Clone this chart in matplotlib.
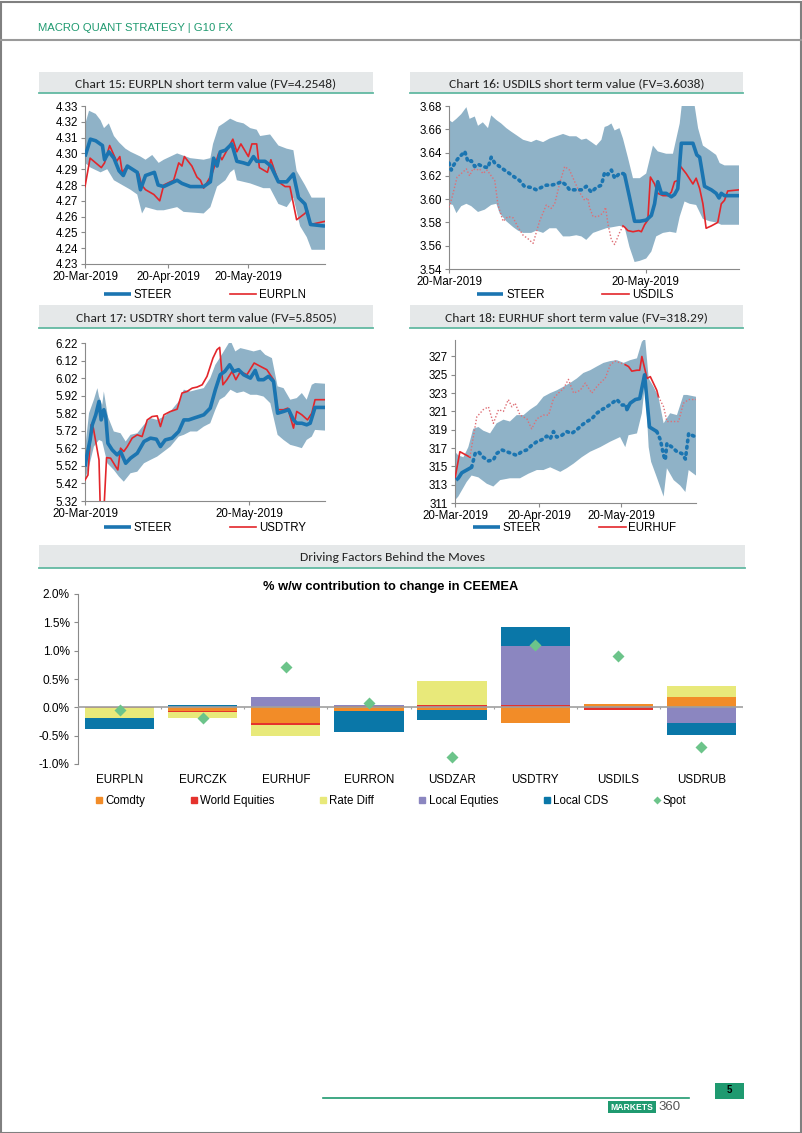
import numpy as np
import pandas as pd
import matplotlib
matplotlib.use('Agg')
import matplotlib.pyplot as plt
import matplotlib.dates as mdates
from matplotlib import font_manager as fm
from matplotlib.lines import Line2D
from matplotlib.patches import Rectangle

#%% Data

START = pd.Timestamp('2019-03-20')
START_NUM = mdates.date2num(START)

# (days since 20-Mar-2019, value)
eurpln_steer = [(0, 4.298), (2, 4.309), (4, 4.308), (6.5, 4.305), (7.3, 4.296), (8.9, 4.301),
                (10.8, 4.297), (12.7, 4.289), (14.3, 4.286), (15.8, 4.292), (19.5, 4.288),
                (20.7, 4.277), (22.6, 4.286), (25.9, 4.288), (27.3, 4.280), (29.4, 4.279),
                (34.4, 4.283), (36.2, 4.281), (39.3, 4.279), (44.3, 4.279), (46.8, 4.282),
                (48.0, 4.297), (49.3, 4.292), (50.5, 4.301), (52.4, 4.302), (54.8, 4.306),
                (56.7, 4.295), (59.2, 4.294), (61.0, 4.293), (62.9, 4.298), (64.1, 4.295),
                (67.2, 4.295), (69.4, 4.292), (72.2, 4.282), (75.3, 4.282), (77.8, 4.287),
                (79.7, 4.272), (82.1, 4.268), (84.2, 4.255), (89.6, 4.254)]
eurpln_spot = [(0, 4.279), (1.9, 4.297), (6.1, 4.291), (7.3, 4.294), (9.2, 4.305), (11.8, 4.295),
               (13.0, 4.298), (13.9, 4.288), (15.8, 4.292), (20.1, 4.287), (21.1, 4.280),
               (22.6, 4.277), (25.7, 4.274), (27.9, 4.270), (29.4, 4.280), (33.1, 4.283),
               (35.0, 4.294), (36.2, 4.292), (37.1, 4.298), (39.9, 4.292), (41.8, 4.285),
               (43.1, 4.283), (44.3, 4.278), (47.4, 4.287), (48.6, 4.293), (49.9, 4.300),
               (51.1, 4.296), (53.0, 4.302), (55.2, 4.309), (56.7, 4.301), (58.2, 4.306),
               (61.0, 4.298), (62.3, 4.306), (64.1, 4.306), (65.1, 4.291), (68.1, 4.288),
               (69.4, 4.296), (72.2, 4.282), (74.7, 4.279), (76.5, 4.279), (79.0, 4.258),
               (82.1, 4.262), (83.0, 4.264), (84.2, 4.255), (89.6, 4.257)]
eurpln_hi = [(0, 4.318), (1.5, 4.327), (4.0, 4.325), (5.8, 4.321), (7.1, 4.316), (8.9, 4.319),
             (10.8, 4.311), (12.7, 4.307), (15.1, 4.303), (17.0, 4.301), (20.7, 4.298),
             (22.6, 4.296), (25.1, 4.299), (27.5, 4.294), (29.4, 4.296), (34.4, 4.300),
             (39.3, 4.297), (44.3, 4.296), (46.8, 4.297), (47.8, 4.306), (49.9, 4.317),
             (51.7, 4.319), (54.2, 4.322), (56.7, 4.320), (59.2, 4.319), (61.7, 4.316),
             (64.1, 4.315), (65.4, 4.311), (69.1, 4.312), (72.2, 4.305), (75.3, 4.303),
             (77.8, 4.302), (79.0, 4.289), (82.1, 4.280), (84.6, 4.272), (89.6, 4.272)]
eurpln_lo = [(0, 4.294), (2.1, 4.291), (5.8, 4.288), (8.3, 4.290), (10.8, 4.283), (13.9, 4.280),
             (17.0, 4.277), (19.5, 4.274), (21.3, 4.262), (22.6, 4.266), (26.9, 4.264),
             (29.4, 4.264), (34.4, 4.266), (36.8, 4.263), (44.3, 4.262), (46.8, 4.266),
             (49.3, 4.279), (52.4, 4.283), (54.2, 4.288), (55.7, 4.290), (56.7, 4.283),
             (61.7, 4.281), (66.6, 4.278), (69.1, 4.278), (72.2, 4.268), (75.3, 4.266),
             (77.8, 4.272), (80.3, 4.254), (82.8, 4.247), (84.6, 4.239), (89.6, 4.239)]

usdils_steer = [(0, 3.631), (0.7, 3.625), (1.4, 3.629), (2.3, 3.633), (3.1, 3.636), (3.9, 3.638),
                (4.9, 3.641), (5.9, 3.632), (6.9, 3.633), (8.0, 3.628), (9.0, 3.630), (10.5, 3.628),
                (12.1, 3.627), (13.1, 3.636), (14.2, 3.631), (15.7, 3.628), (17.2, 3.625),
                (18.8, 3.622), (20.3, 3.619), (21.9, 3.616), (23.4, 3.611), (25.5, 3.610),
                (27.1, 3.608), (28.6, 3.610), (30.2, 3.612), (31.7, 3.612), (33.3, 3.613),
                (34.9, 3.615), (36.4, 3.612), (37.4, 3.608), (39.5, 3.608), (41.1, 3.608),
                (42.6, 3.611), (44.2, 3.606), (45.7, 3.610), (47.3, 3.612), (48.3, 3.623),
                (49.3, 3.621), (50.4, 3.625), (51.4, 3.618), (52.9, 3.622), (54.0, 3.622),
                (54.5, 3.621), (56.0, 3.602), (57.6, 3.581), (59.2, 3.581), (61.2, 3.582),
                (62.8, 3.586), (63.8, 3.596), (64.8, 3.615), (65.9, 3.605), (67.4, 3.605),
                (69.0, 3.602), (70.0, 3.604), (71.0, 3.609), (72.1, 3.648), (74.7, 3.648),
                (75.7, 3.648), (76.9, 3.638), (77.8, 3.636), (79.3, 3.611), (81.4, 3.608),
                (82.9, 3.605), (83.8, 3.601), (84.5, 3.605), (85.5, 3.603), (87.1, 3.603),
                (90.0, 3.603)]
usdils_spot = [(0, 3.593), (1.0, 3.602), (2.5, 3.619), (3.8, 3.622), (5.4, 3.626), (6.4, 3.620),
               (7.4, 3.626), (8.5, 3.625), (9.5, 3.626), (10.5, 3.622), (11.8, 3.625), (13.1, 3.620),
               (14.2, 3.616), (15.2, 3.595), (16.8, 3.581), (18.3, 3.585), (19.9, 3.584),
               (21.4, 3.576), (23.0, 3.569), (24.5, 3.566), (26.1, 3.562), (28.1, 3.581),
               (30.2, 3.595), (31.7, 3.592), (32.8, 3.596), (34.3, 3.613), (35.9, 3.628),
               (37.4, 3.625), (39.0, 3.615), (40.5, 3.606), (42.1, 3.599), (43.1, 3.601),
               (43.6, 3.593), (44.7, 3.585), (46.2, 3.585), (47.8, 3.588), (48.6, 3.593),
               (49.3, 3.579), (50.4, 3.565), (51.4, 3.561), (52.9, 3.571), (54.0, 3.577),
               (54.5, 3.576), (55.5, 3.573), (57.1, 3.572), (58.9, 3.573), (59.7, 3.572),
               (60.7, 3.578), (61.7, 3.582), (62.5, 3.619), (63.8, 3.613), (64.8, 3.605),
               (66.4, 3.603), (67.9, 3.603), (69.0, 3.606), (70.0, 3.615), (71.0, 3.616),
               (71.6, 3.629), (73.6, 3.622), (75.7, 3.613), (76.7, 3.618), (77.8, 3.609),
               (78.8, 3.596), (79.8, 3.575), (81.4, 3.577), (83.4, 3.580), (84.5, 3.596),
               (85.5, 3.599), (86.5, 3.607), (90.0, 3.608)]
usdils_hi = [(0, 3.668), (1.0, 3.666), (2.3, 3.669), (3.8, 3.673), (5.4, 3.679), (6.4, 3.669),
             (8.0, 3.671), (9.0, 3.663), (10.5, 3.666), (12.1, 3.661), (13.1, 3.672), (14.7, 3.668),
             (16.2, 3.665), (17.8, 3.661), (19.3, 3.658), (20.9, 3.655), (23.0, 3.651),
             (25.5, 3.649), (27.1, 3.651), (29.2, 3.649), (31.2, 3.652), (33.3, 3.654),
             (35.4, 3.656), (37.4, 3.654), (39.5, 3.654), (41.1, 3.651), (42.6, 3.652),
             (44.2, 3.649), (45.7, 3.646), (47.3, 3.651), (48.3, 3.662), (49.3, 3.663),
             (50.4, 3.665), (51.4, 3.659), (52.9, 3.661), (54.0, 3.652), (55.5, 3.636),
             (57.1, 3.618), (59.2, 3.618), (61.2, 3.622), (63.3, 3.646), (64.8, 3.641),
             (67.4, 3.639), (69.5, 3.639), (71.6, 3.665), (72.6, 3.690), (75.7, 3.690),
             (77.3, 3.661), (78.8, 3.646), (80.9, 3.642), (82.9, 3.638), (84.0, 3.631),
             (85.5, 3.629), (90.0, 3.629)]
usdils_lo = [(0, 3.596), (1.2, 3.595), (2.3, 3.588), (3.8, 3.594), (5.4, 3.596), (6.9, 3.594),
             (9.0, 3.589), (11.1, 3.591), (13.1, 3.595), (14.7, 3.596), (15.7, 3.588),
             (17.8, 3.581), (19.9, 3.576), (21.4, 3.573), (23.0, 3.571), (25.5, 3.571),
             (27.1, 3.573), (29.2, 3.571), (31.2, 3.575), (33.3, 3.575), (35.4, 3.568),
             (37.4, 3.568), (39.5, 3.569), (41.1, 3.568), (42.6, 3.565), (44.7, 3.571),
             (46.7, 3.573), (48.8, 3.575), (50.9, 3.576), (52.9, 3.577), (54.5, 3.576),
             (56.0, 3.559), (57.6, 3.546), (59.2, 3.547), (61.2, 3.549), (62.8, 3.555),
             (64.3, 3.568), (66.4, 3.571), (68.5, 3.572), (70.5, 3.571), (71.6, 3.585),
             (73.1, 3.598), (74.7, 3.596), (76.7, 3.595), (78.8, 3.583), (80.9, 3.581),
             (82.9, 3.580), (84.5, 3.578), (90.0, 3.578)]

usdtry_steer = [(0, 5.516), (0.6, 5.573), (1.9, 5.668), (2.7, 5.754), (4.0, 5.811), (5.2, 5.887),
                (6.0, 5.782), (7.0, 5.840), (7.7, 5.801), (8.5, 5.649), (10.1, 5.611), (11.9, 5.583),
                (13.2, 5.602), (15.1, 5.535), (16.9, 5.564), (19.4, 5.592), (21.9, 5.659),
                (24.3, 5.678), (26.5, 5.672), (28.0, 5.630), (29.8, 5.668), (32.3, 5.678),
                (34.8, 5.716), (36.7, 5.782), (38.5, 5.782), (40.4, 5.792), (42.2, 5.801),
                (44.1, 5.811), (46.5, 5.849), (48.4, 5.954), (50.2, 6.039), (51.9, 6.058),
                (53.7, 6.096), (55.2, 6.058), (57.0, 6.068), (58.9, 6.039), (61.4, 6.020),
                (63.2, 6.064), (64.4, 6.011), (66.3, 6.011), (68.1, 6.030), (70.0, 6.001),
                (71.5, 5.820), (73.7, 5.830), (75.6, 5.840), (77.4, 5.782), (78.6, 5.763),
                (80.5, 5.763), (82.3, 5.754), (83.6, 5.763), (85.4, 5.853), (89.1, 5.853)]
usdtry_spot = [(0, 5.44), (1.1, 5.468), (2.3, 5.754), (3.1, 5.735), (5.2, 5.554), (5.8, 5.20),
               (6.8, 5.20), (8.0, 5.567), (9.5, 5.564), (11.4, 5.516), (12.2, 5.497), (13.2, 5.621),
               (14.4, 5.602), (15.7, 5.630), (17.5, 5.678), (19.4, 5.697), (21.2, 5.687),
               (23.1, 5.782), (24.9, 5.801), (26.8, 5.805), (28.0, 5.744), (29.3, 5.811),
               (31.7, 5.830), (34.2, 5.843), (36.0, 5.935), (37.9, 5.944), (39.8, 5.963),
               (41.6, 5.969), (43.5, 5.982), (45.3, 6.030), (47.5, 6.134), (49.0, 6.182),
               (50.0, 6.195), (51.2, 5.982), (52.7, 6.011), (54.6, 6.058), (56.0, 6.011),
               (57.7, 6.058), (60.1, 6.039), (62.8, 6.106), (65.1, 6.087), (67.5, 6.068),
               (70.0, 6.011), (71.5, 5.840), (73.7, 5.840), (75.3, 5.849), (77.4, 5.735),
               (78.6, 5.830), (80.5, 5.811), (82.6, 5.782), (84.2, 5.820), (85.4, 5.897),
               (89.1, 5.897)]
usdtry_hi = [(0, 5.611), (1.5, 5.82), (3.3, 5.897), (4.6, 5.963), (5.2, 5.915), (6.4, 5.868),
             (7.0, 5.944), (8.5, 5.801), (10.7, 5.716), (13.2, 5.706), (15.1, 5.659), (16.9, 5.697),
             (19.4, 5.706), (21.9, 5.754), (24.3, 5.792), (26.8, 5.782), (29.3, 5.801),
             (31.7, 5.830), (34.8, 5.887), (36.7, 5.954), (39.1, 5.944), (41.6, 5.954),
             (44.1, 5.963), (46.5, 6.020), (48.4, 6.096), (50.0, 6.134), (51.9, 6.182),
             (54.0, 6.235), (55.8, 6.172), (57.7, 6.191), (60.1, 6.182), (62.6, 6.172),
             (65.1, 6.182), (66.9, 6.153), (69.4, 6.134), (71.5, 5.973), (73.7, 5.963),
             (76.2, 5.897), (78.6, 5.906), (80.5, 5.935), (82.3, 5.897), (84.2, 5.982),
             (85.4, 5.992), (89.1, 5.988)]
usdtry_lo = [(0, 5.44), (1.5, 5.516), (3.3, 5.630), (5.2, 5.668), (6.4, 5.659), (8.3, 5.535),
             (10.7, 5.497), (12.6, 5.459), (14.4, 5.430), (16.9, 5.478), (19.4, 5.487),
             (21.9, 5.535), (24.3, 5.554), (26.8, 5.573), (29.3, 5.602), (31.7, 5.630),
             (34.8, 5.687), (36.7, 5.697), (39.1, 5.716), (41.6, 5.716), (44.1, 5.744),
             (46.5, 5.763), (48.4, 5.840), (50.0, 5.897), (51.9, 5.915), (54.0, 5.954),
             (56.4, 5.935), (58.9, 5.944), (61.4, 5.925), (63.8, 5.925), (66.3, 5.915),
             (68.8, 5.877), (71.5, 5.697), (73.7, 5.668), (76.2, 5.640), (78.6, 5.630),
             (80.5, 5.621), (82.3, 5.668), (84.2, 5.687), (85.4, 5.725), (89.1, 5.721)]

eurhuf_steer = [(0.4, 313.5), (1.2, 313.7), (2.5, 314.3), (4.3, 314.6), (6.1, 314.9), (7.4, 316.4),
                (8.6, 316.6), (10.4, 316.0), (12.3, 315.6), (14.1, 315.7), (15.3, 316.4),
                (17.2, 316.8), (19.0, 316.6), (20.9, 316.4), (22.7, 316.2), (24.5, 316.6),
                (26.4, 316.8), (28.2, 317.3), (30.1, 317.7), (31.9, 317.9), (33.7, 318.3),
                (35.0, 318.0), (36.2, 318.8), (37.4, 318.2), (39.3, 318.4), (41.1, 318.8),
                (42.9, 318.6), (44.8, 319.0), (46.6, 319.5), (48.5, 319.9), (50.3, 320.2),
                (52.1, 320.8), (54.0, 321.2), (55.8, 321.5), (57.7, 321.9), (59.5, 322.3),
                (61.3, 321.7), (62.9, 321.7), (63.2, 321.2), (64.4, 321.9), (66.3, 322.3),
                (67.9, 322.4), (69.7, 325.0), (70.8, 321.5), (71.5, 319.3), (74.2, 318.8),
                (75.5, 317.9), (76.7, 316.2), (77.3, 315.7), (77.9, 317.5), (79.8, 317.1),
                (81.6, 316.6), (83.4, 316.4), (84.7, 315.8), (85.9, 318.6), (87.1, 318.4),
                (88.6, 318.2)]
eurhuf_spot = [(0, 313.7), (1.8, 316.6), (4.3, 316.2), (5.5, 316.0), (6.1, 317.1), (8.0, 320.4),
               (10.4, 321.2), (12.3, 321.5), (14.1, 319.7), (16.0, 321.2), (17.8, 321.0),
               (19.6, 322.3), (20.9, 321.5), (22.1, 321.9), (23.9, 320.6), (26.4, 320.2),
               (28.2, 319.1), (30.1, 320.2), (32.5, 320.6), (34.4, 320.6), (36.2, 322.4),
               (38.0, 323.0), (39.9, 323.5), (41.7, 324.5), (43.6, 323.0), (46.0, 323.3),
               (47.9, 324.1), (50.3, 323.0), (52.1, 323.7), (54.0, 324.3), (55.2, 324.6),
               (57.1, 326.1), (58.9, 326.5), (60.7, 326.3), (62.6, 326.1), (63.8, 325.9),
               (65.0, 325.4), (66.9, 325.5), (67.9, 325.5), (68.7, 327.0), (70.6, 324.6),
               (71.8, 324.8), (74.2, 323.3), (74.8, 322.6), (76.7, 321.5), (77.9, 319.9),
               (79.8, 319.9), (82.2, 319.9), (84.0, 321.9), (85.9, 322.3), (88.6, 322.3)]
eurhuf_hi = [(0, 316.6), (1.2, 316.2), (3.1, 316.0), (4.9, 317.1), (6.7, 319.1), (8.6, 319.3),
             (10.4, 318.9), (12.9, 318.6), (15.3, 319.7), (17.8, 320.1), (20.2, 319.9),
             (22.7, 320.6), (25.2, 320.6), (27.6, 321.2), (30.1, 321.7), (32.5, 322.6),
             (35.0, 323.0), (37.4, 323.3), (39.9, 323.7), (42.3, 324.1), (44.8, 324.6),
             (47.2, 325.2), (49.7, 325.5), (52.1, 325.9), (54.6, 326.3), (57.1, 326.5),
             (59.5, 326.6), (62.0, 326.3), (64.4, 326.6), (66.9, 326.8), (68.7, 328.6),
             (69.9, 329.0), (71.2, 324.6), (73.0, 323.7), (74.8, 322.6), (76.7, 319.7),
             (79.1, 320.8), (81.6, 320.6), (84.0, 322.8), (85.3, 322.8), (88.6, 322.6)]
eurhuf_lo = [(0, 311.3), (1.2, 311.7), (4.3, 313.3), (6.1, 314.0), (8.6, 313.8), (11.7, 313.1),
             (14.1, 312.8), (16.6, 313.5), (20.2, 313.7), (23.9, 313.7), (27.0, 314.2),
             (30.1, 314.6), (32.5, 314.6), (35.0, 314.9), (38.7, 314.4), (41.1, 314.8),
             (43.6, 315.3), (46.6, 316.0), (49.7, 316.6), (53.4, 317.1), (57.1, 317.7),
             (60.7, 318.2), (62.6, 317.1), (63.8, 318.4), (66.9, 318.6), (68.7, 320.8),
             (69.9, 324.1), (71.2, 317.1), (72.1, 315.5), (74.2, 313.8), (76.7, 311.7),
             (77.9, 314.8), (80.4, 313.5), (82.8, 312.9), (84.7, 312.2), (85.9, 314.6),
             (88.6, 314.0)]

# Driving factors (% w/w)
categories = ['EURPLN', 'EURCZK', 'EURHUF', 'EURRON', 'USDZAR', 'USDTRY', 'USDILS', 'USDRUB']
comdty = [-0.01, -0.07, -0.28, -0.06, -0.05, -0.28, 0.05, 0.19]
world_eq = [-0.005, -0.02, -0.03, 0.02, 0.045, 0.045, -0.05, 0.0]
rate_diff = [-0.18, -0.10, -0.20, -0.01, 0.42, 0.0, 0.0, 0.18]
local_eq = [0.0, 0.0, 0.19, 0.03, 0.0, 1.03, 0.0, -0.27]
local_cds = [-0.18, 0.035, 0.0, -0.36, -0.17, 0.34, 0.0, -0.21]
spot = [-0.04, -0.19, 0.71, 0.07, -0.88, 1.10, 0.91, -0.70]


#%% Fonts / colours
def pick(*names):
    for n in names:
        try:
            fm.findfont(fm.FontProperties(family=n), fallback_to_default=False)
            return n
        except Exception:
            pass
    return 'DejaVu Sans'

ARIAL = pick('Liberation Sans', 'Arial')
NARROW = pick('Liberation Sans Narrow', 'Arial Narrow', 'Liberation Sans')
CALIBRI = pick('Carlito', 'Calibri', 'Lato', 'Open Sans')

GREEN = '#1f9a70'
TEAL = '#62b9a2'
BOXGREY = '#e5e8e9'
BAND = '#8fb2c7'
STEER_BLUE = '#1b75b1'
RED = '#e3262b'
PINK = '#de6f76'
AXGREY = '#8a8a8a'

W, H = 802, 1133
fig = plt.figure(figsize=(W / 100, H / 100), dpi=100)


def px_axes(x0, y0, x1, y1):
    return fig.add_axes([x0 / W, 1 - y1 / H, (x1 - x0) / W, (y1 - y0) / H])


def title_box(x0, y0, x1, y1, text):
    fig.add_artist(Rectangle((x0 / W, 1 - y1 / H), (x1 - x0) / W, (y1 - y0) / H,
                             transform=fig.transFigure, facecolor=BOXGREY, edgecolor='none'))
    fig.add_artist(Line2D([x0 / W, x1 / W], [1 - y1 / H] * 2, transform=fig.transFigure,
                          color=TEAL, lw=1.3))
    fig.text((x0 + x1) / 2 / W, 1 - ((y0 + y1) / 2 + 1) / H, text, ha='center', va='center',
             family=CALIBRI, fontsize=9.7, color='#222222')


def xy(pairs):
    a = np.array(pairs, float)
    return START_NUM + a[:, 0], a[:, 1]


def plot_styled(ax, pairs, spans, solid_kw, dot_kw):
    x, y = xy(pairs)
    if spans is None:
        ax.plot(x, y, **solid_kw)
        return
    d = x - START_NUM
    mids = (d[:-1] + d[1:]) / 2
    flags = [any(s0 <= m <= s1 for s0, s1 in spans) for m in mids]
    i = 0
    while i < len(flags):
        j = i
        while j + 1 < len(flags) and flags[j + 1] == flags[i]:
            j += 1
        ax.plot(x[i:j + 2], y[i:j + 2], **(solid_kw if flags[i] else dot_kw))
        i = j + 1


def line_chart(rect, steer, spot_line, hi, lo, name, yticks, ylim, ydec, xdates,
               legend_xy, steer_solid=None, spot_solid=None):
    ax = px_axes(*rect)
    hx, hy = xy(hi)
    lx, ly = xy(lo)
    ax.fill(np.r_[hx, lx[::-1]], np.r_[hy, ly[::-1]], color=BAND, lw=0, zorder=1)
    plot_styled(ax, spot_line, spot_solid,
                dict(color=RED, lw=1.2, zorder=3),
                dict(color=PINK, lw=1.0, ls=(0, (1, 1.4)), zorder=3))
    plot_styled(ax, steer, steer_solid,
                dict(color=STEER_BLUE, lw=2.6, zorder=4, solid_capstyle='butt'),
                dict(color=STEER_BLUE, lw=2.6, ls=(0, (0.45, 1.3)), zorder=4,
                     dash_capstyle='round'))
    xmax = max(hx.max(), lx.max())
    ax.set_xlim(START_NUM, xmax)
    ax.set_ylim(*ylim)
    ax.set_yticks(yticks)
    ax.yaxis.set_major_formatter(lambda v, p: f'{v:.{ydec}f}')
    ax.set_xticks([mdates.date2num(pd.Timestamp(d)) for d in xdates])
    ax.xaxis.set_major_formatter(mdates.DateFormatter('%d-%b-%Y'))
    for s in ['top', 'right']:
        ax.spines[s].set_visible(False)
    for s in ['left', 'bottom']:
        ax.spines[s].set_color(AXGREY)
        ax.spines[s].set_linewidth(0.8)
    ax.tick_params(direction='out', length=3, width=0.8, color=AXGREY, labelsize=8.3,
                   pad=2, labelcolor='black')
    for t in ax.get_xticklabels() + ax.get_yticklabels():
        t.set_family(ARIAL)
    handles = [Line2D([], [], color=STEER_BLUE, lw=2.6, solid_capstyle='butt'),
               Line2D([], [], color=RED, lw=1.2)]
    ax.legend(handles, ['STEER', name], ncol=2, loc='center', frameon=False,
              bbox_to_anchor=(legend_xy[0] / W, 1 - legend_xy[1] / H),
              bbox_transform=fig.transFigure, handlelength=2.3, handletextpad=0.25,
              columnspacing=5.0, prop={'family': ARIAL, 'size': 8.3})
    return ax


#%% Page furniture
fig.add_artist(Rectangle((0.5 / W, 0.5 / H), (W - 2) / W, (H - 2) / H, transform=fig.transFigure,
                         facecolor='none', edgecolor='#808080', lw=1.5))
fig.add_artist(Line2D([0, 1], [1 - 40 / H] * 2, transform=fig.transFigure, color='#9a9a9a', lw=1.5))
fig.text(38 / W, 1 - 28 / H, 'MACRO QUANT STRATEGY | G10 FX', ha='left', va='center',
         family=NARROW, fontsize=8.1, color=GREEN)

title_box(39, 72, 373, 93, 'Chart 15: EURPLN short term value (FV=4.2548)')
title_box(410, 72, 743, 93, 'Chart 16: USDILS short term value (FV=3.6038)')
title_box(39, 305, 373, 328, 'Chart 17: USDTRY short term value (FV=5.8505)')
title_box(410, 305, 743, 328, 'Chart 18: EURHUF short term value (FV=318.29)')
title_box(39, 545, 745, 568, 'Driving Factors Behind the Moves')

#%% Line charts
line_chart((85, 106, 325, 264), eurpln_steer, eurpln_spot, eurpln_hi, eurpln_lo, 'EURPLN',
           np.arange(4.23, 4.335, 0.01), (4.23, 4.33), 2,
           ['2019-03-20', '2019-04-20', '2019-05-20'], (205, 295))
line_chart((449, 106, 739, 269), usdils_steer, usdils_spot, usdils_hi, usdils_lo, 'USDILS',
           np.arange(3.54, 3.685, 0.02), (3.54, 3.68), 2,
           ['2019-03-20', '2019-05-20'], (575, 295),
           steer_solid=[(53.8, 100)], spot_solid=[(53.8, 100)])
line_chart((85, 343, 325, 501), usdtry_steer, usdtry_spot, usdtry_hi, usdtry_lo, 'USDTRY',
           np.arange(5.32, 6.225, 0.1), (5.32, 6.22), 2,
           ['2019-03-20', '2019-05-20'], (205, 528))
line_chart((455, 340, 696, 503), eurhuf_steer, eurhuf_spot, eurhuf_hi, eurhuf_lo, 'EURHUF',
           np.arange(311, 328, 2), (311, 328.8), 0,
           ['2019-03-20', '2019-04-20', '2019-05-20'], (575, 528),
           steer_solid=[(0, 6.5), (62.5, 74.3)], spot_solid=[(0, 5.7), (62, 75)])

#%% Driving factors bar chart
axb = px_axes(78, 594, 743, 764)
x = np.arange(len(categories))
series = [('Comdty', comdty, '#f28c28'), ('World Equities', world_eq, '#e5322d'),
          ('Rate Diff', rate_diff, '#e8e97a'), ('Local Equties', local_eq, '#8b86c0'),
          ('Local CDS', local_cds, '#0a77a8')]
pos = np.zeros(len(x))
neg = np.zeros(len(x))
handles = []
for name, vals, col in series:
    v = np.array(vals, float)
    base = np.where(v >= 0, pos, neg)
    axb.bar(x, v, width=0.834, bottom=base, color=col, lw=0, zorder=2)
    pos += np.clip(v, 0, None)
    neg += np.clip(v, None, 0)
    handles.append(Line2D([], [], ls='none', marker='s', ms=4.5, color=col))
axb.plot(x, spot, ls='none', marker='D', ms=6.5, color='#6cc48a', mec='none', zorder=5)
handles.append(Line2D([], [], ls='none', marker='D', ms=4, color='#6cc48a', mec='none'))

axb.axhline(0, color='#a0a0a0', lw=1.2, zorder=3)
axb.vlines(np.arange(len(x) + 1) - 0.5, -0.035, 0, color='#a0a0a0', lw=0.8, zorder=3)
axb.set_xlim(-0.5, len(x) - 0.5)
axb.set_ylim(-1.0, 2.0)
axb.set_yticks(np.arange(-1.0, 2.01, 0.5))
axb.yaxis.set_major_formatter(lambda v, p: f'{v:.1f}%')
axb.set_xticks(x)
axb.set_xticklabels(categories)
for s in ['top', 'right', 'bottom']:
    axb.spines[s].set_visible(False)
axb.spines['left'].set_color(AXGREY)
axb.spines['left'].set_linewidth(0.8)
axb.tick_params(axis='y', direction='out', length=3, width=0.8, color=AXGREY,
                labelsize=8.6, pad=3)
axb.tick_params(axis='x', length=0, labelsize=8.4, pad=7)
for t in axb.get_xticklabels() + axb.get_yticklabels():
    t.set_family(NARROW)

fig.text(391 / W, 1 - 587 / H, '% w/w contribution to change in CEEMEA', ha='center',
         va='center', family=ARIAL, fontweight='bold', fontsize=9.3)
fig.legend(handles, [s[0] for s in series] + ['Spot'], ncol=6, loc='center',
           bbox_to_anchor=(391 / W, 1 - 801 / H), frameon=False, handlelength=0.6,
           handletextpad=0.25, columnspacing=3.9, prop={'family': NARROW, 'size': 8.3})

#%% Footer
fig.add_artist(Line2D([323 / W, 689 / W], [1 - 1098 / H] * 2, transform=fig.transFigure,
                      color=GREEN, lw=1.2))
fig.add_artist(Rectangle((715 / W, 1 - 1099 / H), 29 / W, 16 / H, transform=fig.transFigure,
                         facecolor=GREEN, edgecolor='none'))
fig.text(729.5 / W, 1 - 1090 / H, '5', ha='center', va='center', fontsize=7,
         fontweight='bold', family=ARIAL, color='black')
fig.add_artist(Rectangle((608 / W, 1 - 1113 / H), 48 / W, 12 / H, transform=fig.transFigure,
                         facecolor=GREEN, edgecolor='none'))
fig.text(632 / W, 1 - 1107.5 / H, 'MARKETS', ha='center', va='center', fontsize=6.2,
         fontweight='bold', family=NARROW, color='white')
fig.text(658 / W, 1 - 1107 / H, '360', ha='left', va='center', fontsize=9.5,
         family=ARIAL, color='#555555')

fig.savefig('out.png', dpi=100)
